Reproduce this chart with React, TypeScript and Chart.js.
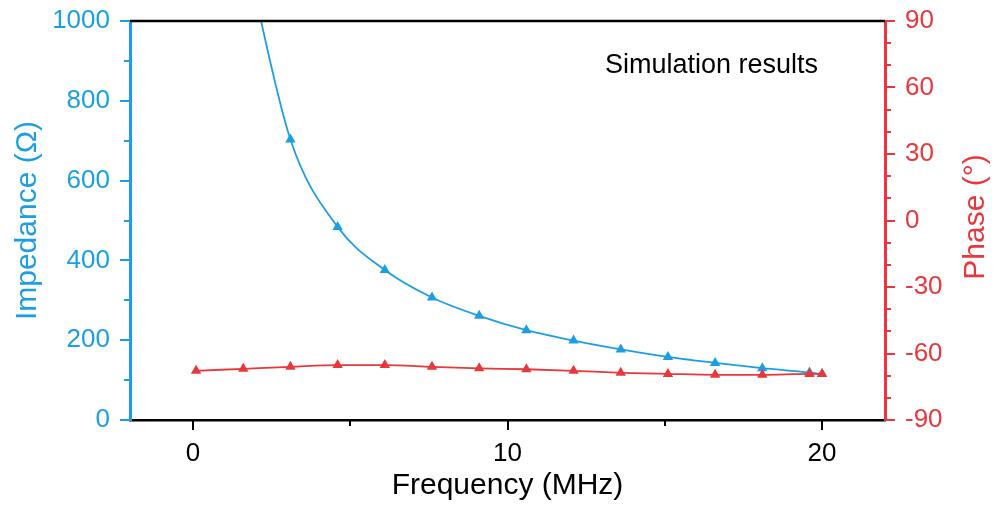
import React, { useEffect, useRef } from "react";
import { Chart, registerables } from "chart.js";

Chart.register(...registerables);

const frequency = [0.1, 1.6, 3.1, 4.6, 6.1, 7.6, 9.1, 10.6, 12.1, 13.6, 15.1, 16.6, 18.1, 19.6, 20];
// first value is far above the plotted range (not readable)
const impedance = [null, 1200, 703, 484, 376, 307, 261, 225, 199, 177, 158, 143, 130, 119, 115];
const phase = [-67.8, -66.9, -66.0, -65.2, -65.2, -66.0, -66.7, -67.1, -67.8, -68.7, -69.2, -69.6, -69.6, -69.2, -69.2];

const xTicks = [0, 10, 20];
const xMinorTicks = [5, 15];
const impTicks = [0, 200, 400, 600, 800, 1000];
const impMinorTicks = [100, 300, 500, 700, 900];
const phaseTicks = [-90, -60, -30, 0, 30, 60, 90];
const phaseMinorTicks = [-80, -70, -50, -40, -20, -10, 10, 20, 40, 50, 70, 80];

const BLUE = "#1c9fe2";
const RED = "#e8383c";
const FONT = "'Liberation Sans', Arial, sans-serif";

export default function App() {
  const ref = useRef<HTMLCanvasElement | null>(null);

  useEffect(() => {
    document.body.style.margin = "0";
    const ctx = ref.current!.getContext("2d")!;

    const decor = {
      id: "decor",
      afterDraw(chart: any) {
        const c = chart.ctx;
        const { left, right, top, bottom } = chart.chartArea;
        const sx = chart.scales.x;
        const sy = chart.scales.y;
        const sy1 = chart.scales.y1;
        c.save();
        // top frame
        c.strokeStyle = "#000";
        c.lineWidth = 2.5;
        c.beginPath();
        c.moveTo(left, top);
        c.lineTo(right, top);
        c.stroke();
        // x ticks
        c.lineWidth = 2;
        const tickX = (vals: number[], len: number) => {
          vals.forEach((v) => {
            const px = Math.round(sx.getPixelForValue(v));
            c.beginPath();
            c.moveTo(px, bottom);
            c.lineTo(px, bottom + len);
            c.stroke();
          });
        };
        tickX(xTicks, 10);
        tickX(xMinorTicks, 6);
        // y ticks
        c.strokeStyle = BLUE;
        const tickY = (scale: any, vals: number[], len: number, x0: number, dir: number) => {
          vals.forEach((v) => {
            const py = Math.round(scale.getPixelForValue(v));
            c.beginPath();
            c.moveTo(x0, py);
            c.lineTo(x0 + dir * len, py);
            c.stroke();
          });
        };
        tickY(sy, impTicks, 10, left, -1);
        tickY(sy, impMinorTicks, 6, left, -1);
        c.strokeStyle = RED;
        tickY(sy1, phaseTicks, 10, right, 1);
        tickY(sy1, phaseMinorTicks, 6, right, 1);
        // annotation
        c.fillStyle = "#000";
        c.font = `27px ${FONT}`;
        c.textAlign = "left";
        c.textBaseline = "alphabetic";
        c.fillText("Simulation results", 605, 73);
        // right axis title (reads bottom to top)
        c.fillStyle = RED;
        c.font = `30px ${FONT}`;
        c.translate(976, 217);
        c.rotate(-Math.PI / 2);
        c.textAlign = "center";
        c.textBaseline = "middle";
        c.fillText("Phase (°)", 0, 0);
        c.restore();
      },
    };

    const noPad = (s: any) => {
      s.paddingTop = 0;
      s.paddingBottom = 0;
    };

    const chart = new Chart(ctx, {
      type: "line",
      data: {
        datasets: [
          {
            label: "Impedance",
            data: frequency.map((f, i) => ({ x: f, y: impedance[i] })),
            yAxisID: "y",
            order: 2,
            borderColor: BLUE,
            backgroundColor: BLUE,
            borderWidth: 1.8,
            pointStyle: "triangle",
            pointRadius: 6,
            pointBorderWidth: 0,
            cubicInterpolationMode: "monotone",
          },
          {
            label: "Phase",
            data: frequency.map((f, i) => ({ x: f, y: phase[i] })),
            yAxisID: "y1",
            order: 1,
            borderColor: RED,
            backgroundColor: RED,
            borderWidth: 1.8,
            pointStyle: "triangle",
            pointRadius: 6,
            pointBorderWidth: 0,
            cubicInterpolationMode: "monotone",
          },
        ],
      },
      options: {
        animation: false,
        responsive: true,
        maintainAspectRatio: false,
        layout: { padding: { top: 21, left: 0, right: 0, bottom: 0 } },
        plugins: { legend: { display: false }, tooltip: { enabled: false } },
        scales: {
          x: {
            type: "linear",
            min: -2,
            max: 22,
            afterBuildTicks: (s: any) => {
              s.ticks = xTicks.map((v) => ({ value: v }));
            },
            afterFit: (s: any) => {
              s.height = 88;
              s.paddingLeft = 0;
              s.paddingRight = 0;
            },
            grid: { display: false, drawTicks: false },
            border: { display: true, color: "#000", width: 2.5 },
            ticks: {
              color: "#000",
              font: { family: FONT, size: 26 },
              padding: 18,
              maxRotation: 0,
              callback: (v: any) => String(v),
            },
            title: {
              display: true,
              text: "Frequency (MHz)",
              color: "#000",
              font: { family: FONT, size: 30 },
              padding: { top: 0, bottom: 4 },
            },
          },
          y: {
            type: "linear",
            position: "left",
            min: 0,
            max: 1000,
            afterBuildTicks: (s: any) => {
              s.ticks = impTicks.map((v) => ({ value: v }));
            },
            afterFit: (s: any) => {
              s.width = 130;
              noPad(s);
            },
            grid: { display: false, drawTicks: false },
            border: { display: true, color: BLUE, width: 3 },
            ticks: {
              color: BLUE,
              font: { family: FONT, size: 26 },
              padding: 20,
              callback: (v: any) => String(v),
            },
            title: {
              display: true,
              text: "Impedance (Ω)",
              color: BLUE,
              font: { family: FONT, size: 30 },
              padding: { top: 10, bottom: 0 },
            },
          },
          y1: {
            type: "linear",
            position: "right",
            min: -90,
            max: 90,
            afterBuildTicks: (s: any) => {
              s.ticks = phaseTicks.map((v) => ({ value: v }));
            },
            afterFit: (s: any) => {
              s.width = 111;
              noPad(s);
            },
            grid: { display: false, drawTicks: false },
            border: { display: true, color: RED, width: 3 },
            ticks: {
              color: RED,
              font: { family: FONT, size: 26 },
              padding: 20,
              callback: (v: any) => String(v),
            },
          },
        },
      },
      plugins: [decor],
    } as any);

    return () => chart.destroy();
  }, []);

  return (
    <div style={{ position: "fixed", left: 0, top: 0, width: 996, height: 508 }}>
      <canvas ref={ref} />
    </div>
  );
}
